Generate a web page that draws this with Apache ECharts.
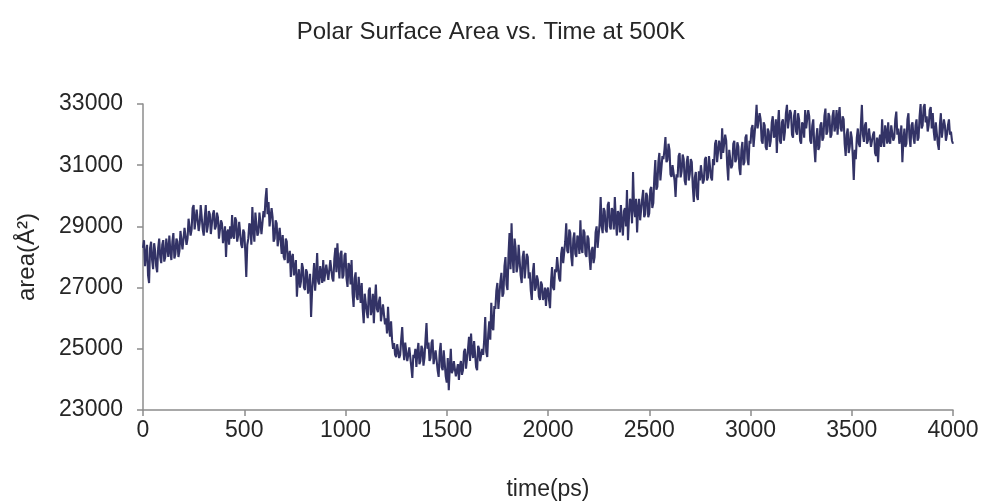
<!DOCTYPE html>
<html>
<head>
<meta charset="utf-8">
<title>Polar Surface Area vs. Time at 500K</title>
<script src="https://cdn.jsdelivr.net/npm/echarts@6/dist/echarts.min.js"></script>
<style>
  html, body { margin: 0; padding: 0; background: #ffffff; }
  #chart { width: 982px; height: 504px; }
</style>
</head>
<body>
<div id="chart"></div>
<script>
// Sampling interval of the trajectory snapshots (ps)
const STEP_PS = 5;

// Polar surface area (Å²) per snapshot, 0–4000 ps (one row = 100 ps)
const areaValues = [
  28300, 28550, 27700, 28100, 28400, 27400, 27150, 28300, 28500, 27900, 27600, 28450, 28200, 27700, 27500, 28300, 28600, 28000, 27800, 28400,
  28550, 27850, 28000, 28600, 28300, 28000, 28700, 28200, 27900, 28500, 28780, 27950, 28100, 28600, 28500, 28000, 28200, 28850, 28900, 28250,
  28300, 28950, 29000, 28400, 28600, 29250, 29200, 28700, 28900, 29600, 29700, 28900, 28900, 29550, 29500, 28850, 29100, 29700, 29650, 28900,
  28700, 29300, 29700, 28800, 29000, 29500, 29400, 28750, 28700, 29400, 29530, 28900, 29000, 29450, 29300, 28600, 28600, 29200, 29100, 28450,
  28500, 29000, 28000, 28800, 28900, 28400, 29000, 28600, 29370, 28700, 28600, 29300, 29200, 28500, 28700, 29150, 29100, 28400, 28300, 28900,
  28800, 28200, 27350, 28400, 28600, 29100, 29000, 28400, 29630, 28900, 28500, 29450, 29400, 28700, 28800, 29450, 29500, 28750, 28700, 29500,
  29300, 29900, 30250, 29400, 29800, 29000, 29000, 29600, 29300, 28500, 28600, 29200, 29100, 28350, 28300, 28950, 28900, 28100, 28720, 28000,
  27900, 28600, 28500, 27800, 27800, 28200, 27350, 28000, 28100, 27400, 27400, 27900, 26700, 27300, 27600, 27000, 27200, 27800, 27640, 27000,
  26920, 27600, 27500, 26800, 27100, 27450, 26040, 26900, 27300, 27800, 26900, 27400, 28130, 27200, 27100, 27700, 27500, 27150, 27900, 27200,
  27150, 27750, 27800, 27250, 27300, 27900, 27900, 27300, 27200, 27950, 28300, 27500, 28450, 27800, 27300, 28100, 28200, 27300, 27400, 28050,
  28130, 27300, 27020, 27800, 27700, 27100, 27900, 26800, 26370, 27300, 27500, 26700, 26600, 27350, 27400, 26500, 27150, 26300, 25840, 26800,
  26800, 26200, 26000, 26900, 27000, 26100, 26300, 26800, 25840, 26600, 27100, 26300, 26200, 26550, 26700, 25900, 25850, 26450, 26500, 25800,
  26000, 25500, 26370, 25700, 25400, 25900, 25290, 25000, 25190, 24800, 24730, 25150, 25100, 24700, 24800, 25300, 25710, 25000, 24630, 25200,
  25200, 24600, 24800, 25050, 25060, 24400, 24050, 24800, 24700, 25000, 24410, 24900, 25190, 24500, 24600, 25100, 25000, 24450, 24700, 25300,
  25840, 25000, 25200, 24600, 24700, 25200, 25300, 24500, 24500, 24950, 25000, 24300, 24080, 24900, 25190, 24400, 24300, 24950, 24900, 24100,
  23900, 24700, 23650, 24400, 25000, 24200, 24300, 24600, 24540, 24100, 24080, 24500, 23980, 24450, 24600, 24150, 24300, 24900, 25000, 24350,
  24310, 25000, 25390, 24600, 25500, 24900, 24700, 25250, 25200, 24400, 24300, 25100, 25000, 24600, 24600, 25000, 24800, 25300, 26040, 24900,
  24730, 25500, 25900, 25300, 26500, 25700, 25610, 26400, 26300, 26900, 27150, 26300, 26270, 27200, 27480, 26700, 26820, 27700, 28000, 27100,
  26920, 28100, 28780, 27600, 29100, 28000, 27480, 28600, 28300, 27500, 27700, 28400, 28460, 27400, 27150, 28000, 28200, 27300, 27300, 28100,
  28000, 27300, 27500, 26900, 26600, 27500, 27800, 26900, 27000, 27400, 27250, 26700, 26600, 27200, 27100, 26600, 26700, 27000, 26400, 26900,
  27000, 26600, 26330, 27200, 27670, 27000, 26920, 27600, 27500, 28000, 28000, 27300, 27200, 28100, 28330, 27800, 27800, 28500, 29100, 28200,
  28130, 28900, 28780, 28000, 27700, 28600, 28800, 28100, 28000, 28700, 28600, 28100, 29200, 28300, 28130, 28900, 28800, 28100, 28000, 28700,
  28600, 28000, 27580, 28200, 28330, 27800, 28000, 28800, 29000, 28300, 28300, 29100, 29960, 29000, 28780, 29600, 29500, 28900, 28800, 29700,
  29800, 29000, 28900, 29600, 29500, 28900, 29960, 29200, 28700, 29500, 29400, 28800, 29700, 29100, 28700, 29500, 29600, 29000, 30190, 28550,
  29300, 29900, 29800, 29100, 30780, 29600, 29300, 29900, 28800, 29600, 29900, 29200, 29200, 29900, 30190, 29300, 29400, 30100, 30000, 29300,
  29430, 30200, 30290, 29600, 29760, 30600, 31170, 30200, 30300, 31100, 31400, 30500, 30520, 31300, 31200, 31500, 31920, 31100, 31170, 31700,
  31500, 30700, 30620, 31000, 30960, 30500, 29960, 30700, 30600, 31300, 31400, 30600, 30800, 31350, 31200, 30500, 30350, 31100, 31300, 30500,
  30700, 31200, 31100, 30300, 29800, 30600, 30780, 30000, 29860, 30800, 30500, 31000, 31000, 30400, 30520, 31200, 31270, 30500, 30600, 31300,
  31300, 30600, 30500, 31200, 31000, 31700, 31820, 31100, 31070, 31800, 31600, 31200, 32210, 31400, 31430, 32000, 31800, 31000, 30500, 31500,
  31500, 30900, 31000, 31700, 31800, 31100, 31200, 31750, 31600, 30900, 30680, 31500, 31760, 31000, 31100, 31900, 32000, 31200, 31000, 31800,
  31700, 32200, 32310, 31600, 31560, 32400, 32970, 32200, 32210, 32700, 32500, 31800, 31700, 32400, 32300, 31600, 31500, 32200, 32100, 31600,
  31800, 32400, 32600, 31900, 32000, 32500, 31400, 32300, 32800, 31800, 31700, 32400, 32500, 31800, 32100, 32700, 32970, 32200, 32210, 32800,
  32700, 32000, 31900, 32600, 32800, 32100, 32000, 32700, 32500, 31800, 31700, 32400, 32300, 31900, 32800, 32200, 32200, 32800, 32600, 31800,
  31700, 32300, 32500, 31600, 31100, 31900, 32210, 31500, 31600, 32300, 32400, 31800, 31900, 32600, 32850, 32000, 32100, 32700, 32600, 31900,
  32000, 32600, 32800, 32100, 32300, 32800, 32000, 32600, 32900, 32200, 32100, 32600, 32500, 31700, 31300, 32000, 32200, 31400, 31600, 32100,
  31900, 31300, 30520, 31500, 31200, 31900, 32200, 31700, 31600, 32300, 32970, 32000, 31760, 32300, 32400, 31700, 31800, 32200, 32200, 31600,
  31600, 32000, 32100, 31400, 31300, 31900, 31100, 31800, 32000, 31600, 32500, 31800, 31600, 32300, 32100, 31700, 32400, 31800, 31700, 32300,
  32300, 31800, 31900, 32500, 32750, 32000, 32200, 31700, 31900, 32300, 31100, 31800, 32200, 31600, 31700, 32500, 32700, 31900, 31600, 32300,
  32400, 31900, 31700, 32300, 32500, 31800, 31900, 32600, 33000, 32200, 32300, 32900, 33000, 32400, 32600, 32100, 32300, 32800, 32900, 32200,
  32700, 32100, 31800, 32400, 32400, 31700, 31500, 32300, 32700, 31900, 31900, 32500, 32300, 31800, 32000, 32300, 32500, 32000, 32100, 31800,
  31700
];

const xTicks = { min: 0, max: 4000, interval: 500 };
const yTicks = { min: 23000, max: 33000, interval: 2000 };

const points = areaValues.map((v, i) => [i * STEP_PS, v]);

const FONT = '"Liberation Sans", Arial, sans-serif';
const textColor = '#262626';
const axisGray = '#8c8c8c';

const chart = echarts.init(document.getElementById('chart'), null, { renderer: 'canvas' });
chart.setOption({
  animation: false,
  backgroundColor: '#ffffff',
  title: {
    text: 'Polar Surface Area vs. Time at 500K',
    left: 'center',
    top: 15,
    textStyle: { fontFamily: FONT, fontSize: 24, fontWeight: 'normal', color: textColor }
  },
  grid: { left: 143, right: 29, top: 104, bottom: 94, containLabel: false, outerBoundsMode: 'none' },
  xAxis: {
    type: 'value',
    min: xTicks.min, max: xTicks.max, interval: xTicks.interval,
    name: 'time(ps)',
    nameLocation: 'middle',
    nameGap: 68,
    nameTextStyle: { fontFamily: FONT, fontSize: 23, color: textColor },
    axisLine: { show: true, onZero: false, lineStyle: { color: axisGray, width: 1.5 } },
    axisTick: { show: true, inside: false, length: 6, lineStyle: { color: axisGray, width: 1.5 } },
    axisLabel: { fontFamily: FONT, fontSize: 23, color: textColor, margin: 9, formatter: v => String(v) },
    splitLine: { show: false }
  },
  yAxis: {
    type: 'value',
    min: yTicks.min, max: yTicks.max, interval: yTicks.interval,
    name: 'area(Å²)',
    nameLocation: 'middle',
    nameGap: 104,
    nameRotate: 90,
    nameTextStyle: { fontFamily: FONT, fontSize: 24, color: textColor },
    axisLine: { show: true, lineStyle: { color: axisGray, width: 1.5 } },
    axisTick: { show: true, inside: false, length: 6, lineStyle: { color: axisGray, width: 1.5 } },
    axisLabel: { fontFamily: FONT, fontSize: 23, color: textColor, margin: 20, formatter: v => String(v) },
    splitLine: { show: false }
  },
  series: [{
    type: 'line',
    data: points,
    showSymbol: false,
    symbol: 'none',
    clip: false,
    lineStyle: { color: '#333366', width: 2.1 },
    itemStyle: { color: '#333366' }
  }]
});
</script>
</body>
</html>
